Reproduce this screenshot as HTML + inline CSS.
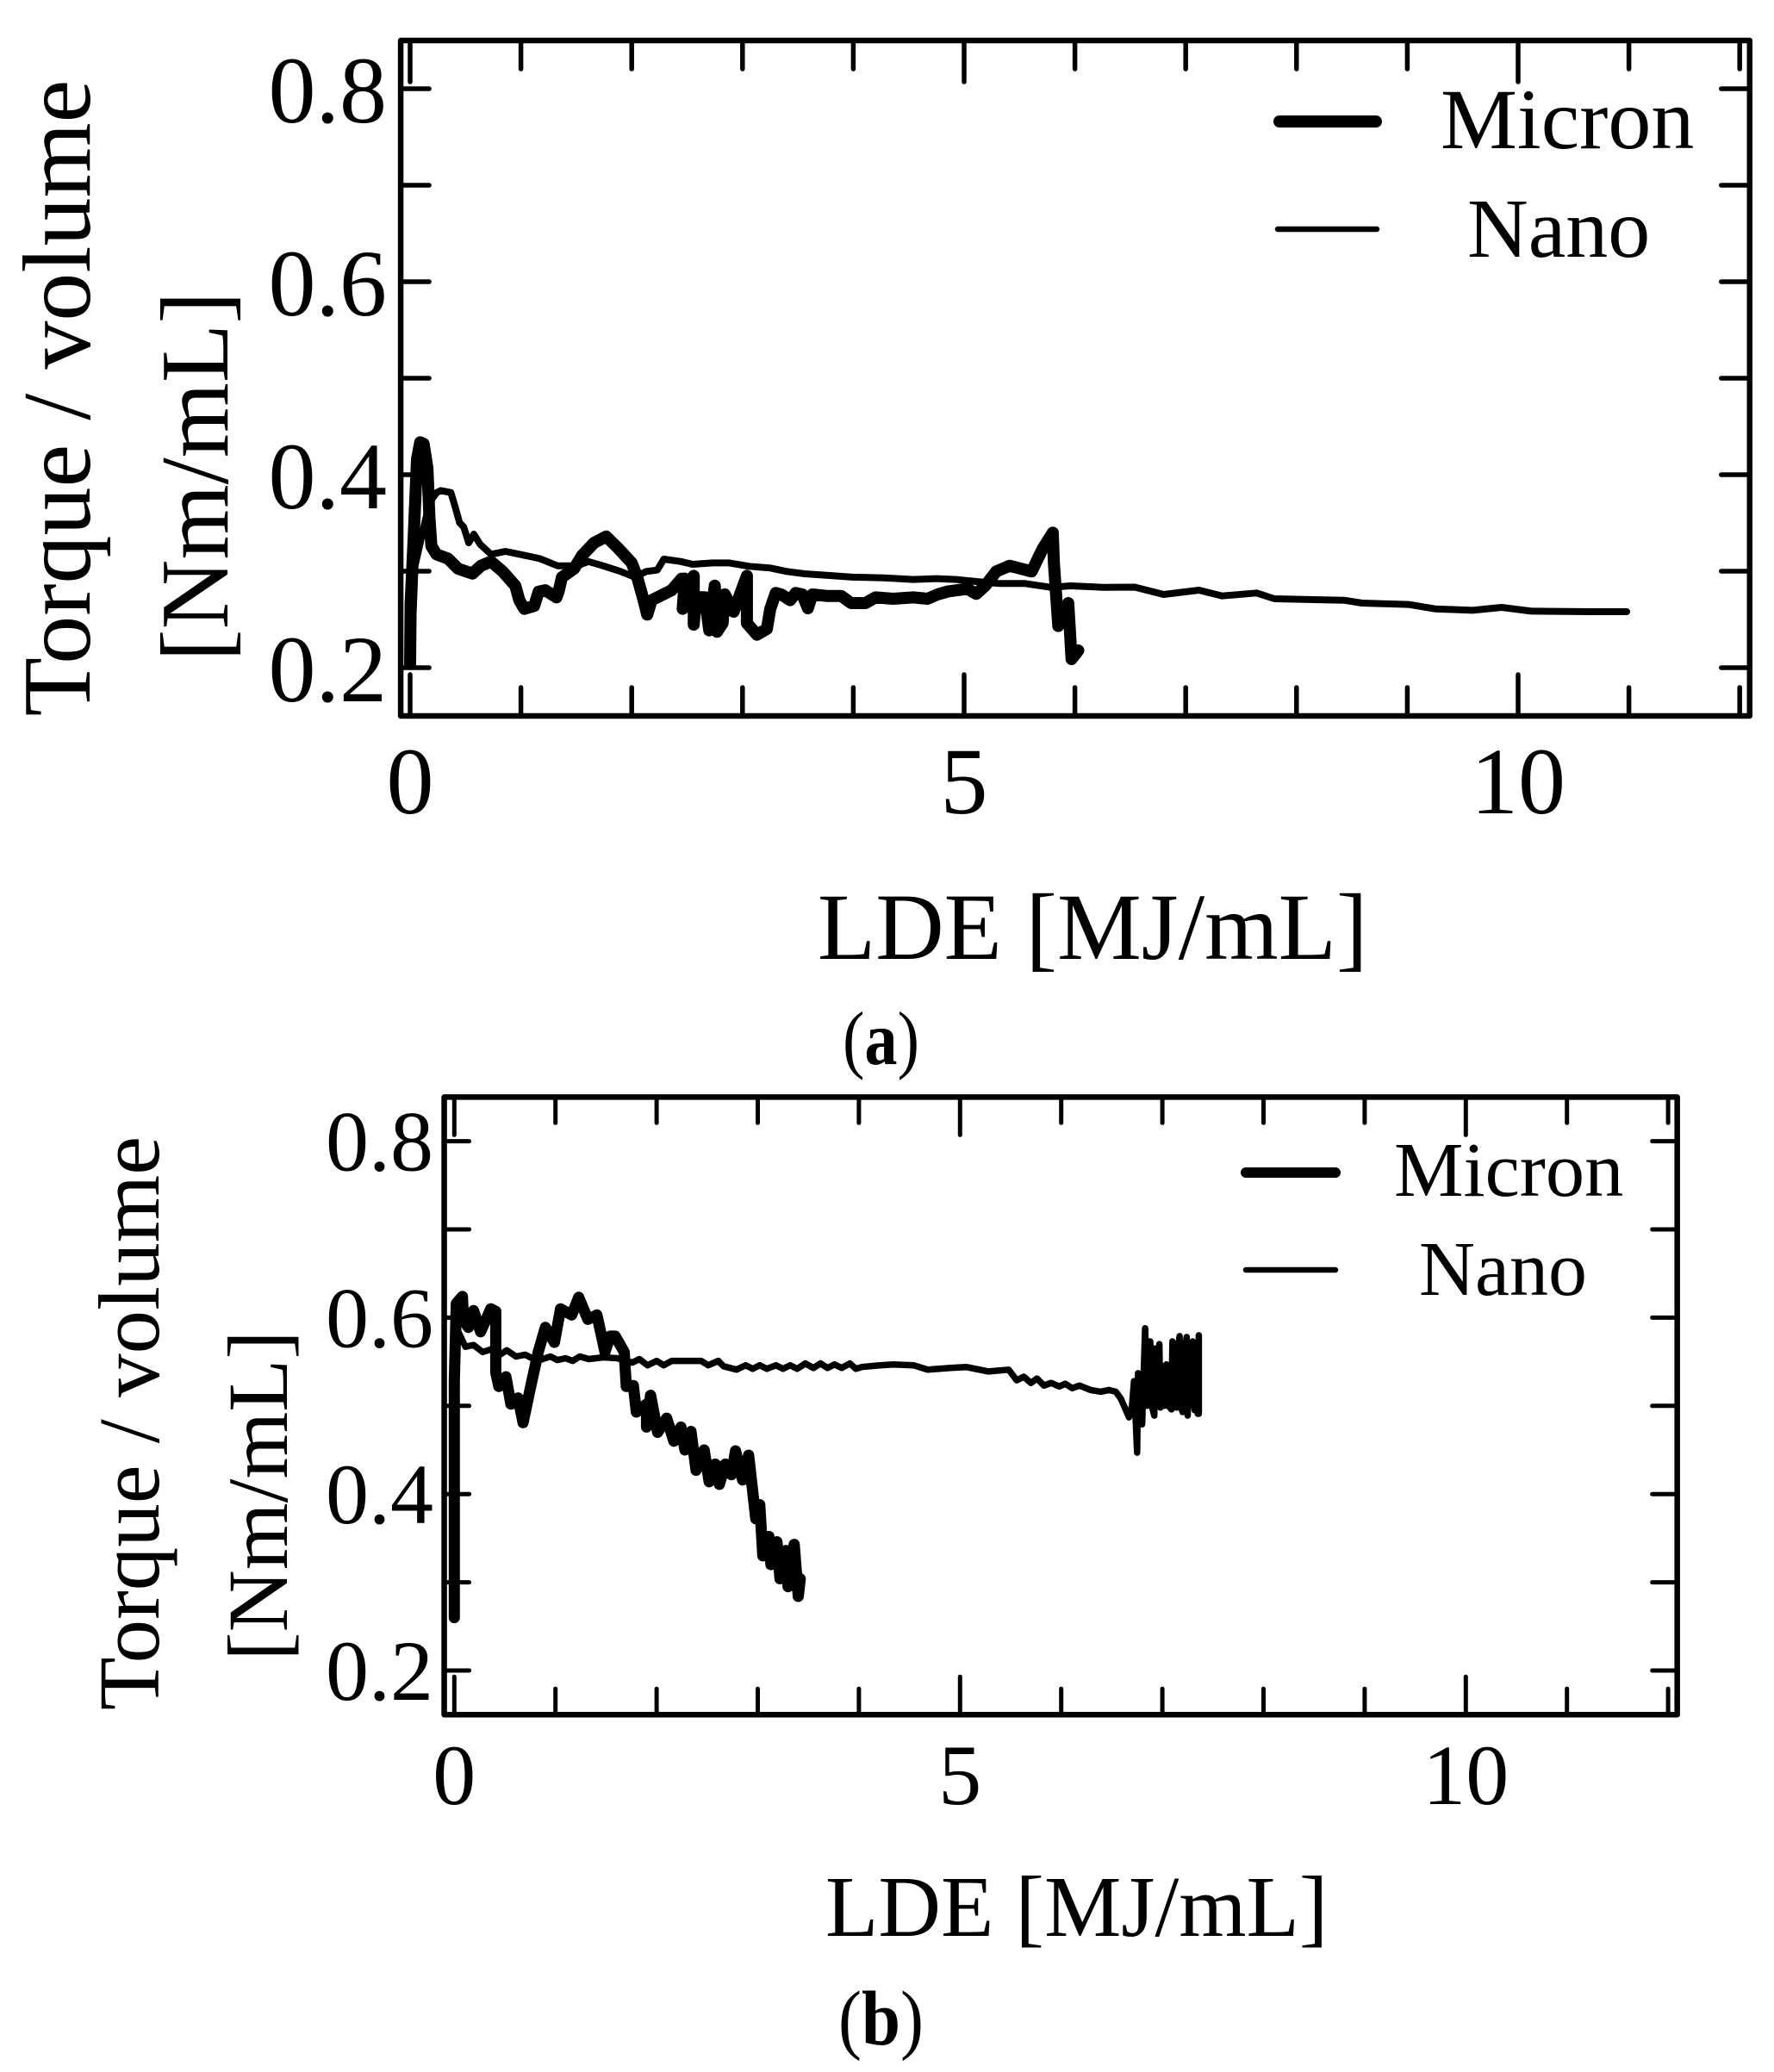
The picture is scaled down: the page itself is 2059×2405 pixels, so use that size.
<!DOCTYPE html>
<html lang="en">
<head>
<meta charset="utf-8">
<title>Torque per volume vs LDE</title>
<style>
html,body{margin:0;padding:0;background:#fff;}
#figure{display:block;width:2059px;height:2405px;background:#fff;}
text{font-family:"Liberation Serif",serif;fill:#000;}
</style>
</head>
<body>
<svg id="figure" xmlns="http://www.w3.org/2000/svg" width="2059" height="2405" viewBox="0 0 2059 2405">
  <g id="panel-a">
    <text transform="translate(104,462) rotate(-90)" text-anchor="middle" font-size="112">Torque / volume</text>
    <text transform="translate(264,553) rotate(-90)" text-anchor="middle" font-size="112">[Nm/mL]</text>
    <text x="949" y="1113" font-size="110">LDE [MJ/mL]</text>
    <text x="1672" y="172" font-size="100">Micron</text>
    <text x="1703" y="298" font-size="98">Nano</text>
    <line x1="1485" y1="141" x2="1597" y2="141" stroke="#000" stroke-width="14" stroke-linecap="round"/>
    <line x1="1483" y1="266" x2="1598" y2="266" stroke="#000" stroke-width="6.5" stroke-linecap="round"/>
    <text x="978" y="1235" font-size="88" textLength="89" lengthAdjust="spacingAndGlyphs">(<tspan font-weight="bold">a</tspan>)</text>
  </g>
  <g id="panel-b">
    <text transform="translate(184,1652) rotate(-90)" text-anchor="middle" font-size="101">Torque / volume</text>
    <text transform="translate(333,1736) rotate(-90)" text-anchor="middle" font-size="100">[Nm/mL]</text>
    <text x="958" y="2247" font-size="100.5">LDE [MJ/mL]</text>
    <text x="1618" y="1388" font-size="90.5">Micron</text>
    <text x="1647" y="1503" font-size="90">Nano</text>
    <line x1="1446" y1="1361" x2="1550" y2="1361" stroke="#000" stroke-width="12" stroke-linecap="round"/>
    <line x1="1446" y1="1474" x2="1550" y2="1474" stroke="#000" stroke-width="6.5" stroke-linecap="round"/>
    <text x="973" y="2373" font-size="90" textLength="99" lengthAdjust="spacingAndGlyphs">(<tspan font-weight="bold">b</tspan>)</text>
  </g>
</svg>
<script>
// Axis ticks
const xMinorTicks = [1,2,3,4,6,7,8,9,11,12];
const xMajorTicks = [0,5,10];
const xTickLabels = ["0","5","10"];
const yTicks = [0.2,0.3,0.4,0.5,0.6,0.7,0.8];
const yLabelValues = [0.2,0.4,0.6,0.8];
const yTickLabels = ["0.2","0.4","0.6","0.8"];

// Panel (a) series
const microAX = [0,0.005,0.031,0.062,0.091,0.122,0.156,0.174,0.192,0.238,0.342,0.433,0.563,0.64,0.73,0.835,0.95,0.985,1.03,1.12,1.16,1.22,1.32,1.34,1.37,1.48,1.55,1.66,1.77,1.88,2.0,2.05,2.1,2.14,2.18,2.36,2.45,2.48,2.46,2.56,2.56,2.58,2.66,2.7,2.75,2.77,2.82,2.84,2.92,3.04,3.04,3.13,3.22,3.25,3.3,3.35,3.43,3.48,3.54,3.59,3.63,3.76,3.89,3.98,4.11,4.2,4.36,4.54,4.67,4.76,4.85,5.03,5.11,5.19,5.29,5.41,5.61,5.71,5.8,5.81,5.85,5.94,5.97,6.03];
const microAY = [0.204,0.267,0.332,0.416,0.4336,0.432,0.407,0.356,0.326,0.3175,0.313,0.3026,0.2976,0.3056,0.31,0.2997,0.2848,0.27,0.261,0.264,0.2788,0.2803,0.2729,0.2788,0.2937,0.3026,0.316,0.3294,0.336,0.3235,0.3086,0.2937,0.2729,0.255,0.2699,0.2803,0.2922,0.2923,0.261,0.2952,0.2446,0.273,0.273,0.2387,0.285,0.2372,0.2461,0.276,0.258,0.2952,0.2461,0.2342,0.2402,0.261,0.2774,0.2759,0.27,0.2774,0.2759,0.2616,0.2759,0.2744,0.2744,0.267,0.267,0.2729,0.2714,0.2729,0.2714,0.2759,0.2789,0.2818,0.2765,0.2848,0.2997,0.3056,0.2997,0.3235,0.3399,0.3086,0.2432,0.267,0.2089,0.2179];
const nanoAX = [0.01,0.044,0.174,0.24,0.277,0.368,0.407,0.446,0.484,0.529,0.575,0.632,0.73,0.86,0.99,1.17,1.33,1.51,1.61,1.74,1.9,2.03,2.13,2.23,2.29,2.44,2.55,2.73,2.88,3.06,3.25,3.4,3.56,3.76,3.99,4.28,4.54,4.75,4.93,5.11,5.32,5.55,5.78,5.96,6.25,6.54,6.8,7.12,7.33,7.64,7.8,8.43,8.59,9.01,9.25,9.59,9.85,10.12,10.64,10.98];
const nanoAY = [0.2045,0.3056,0.3711,0.3815,0.3836,0.3815,0.3666,0.3503,0.3458,0.3294,0.3384,0.3279,0.3175,0.3205,0.3175,0.313,0.3056,0.3056,0.31,0.3056,0.2997,0.2937,0.2997,0.3012,0.3125,0.3101,0.3071,0.3086,0.3086,0.3051,0.3033,0.2997,0.2973,0.2958,0.2938,0.2931,0.2914,0.2923,0.2914,0.2893,0.2872,0.2872,0.2833,0.2848,0.2833,0.2835,0.2759,0.2804,0.2744,0.2774,0.2714,0.2699,0.267,0.2655,0.261,0.2595,0.2625,0.2586,0.258,0.258];

// Panel (b) series
const microBX = [0,0,0.02,0.08,0.09,0.14,0.19,0.26,0.36,0.41,0.41,0.44,0.51,0.56,0.63,0.68,0.75,0.83,0.9,0.99,1.05,1.16,1.23,1.32,1.41,1.49,1.54,1.59,1.68,1.7,1.77,1.8,1.9,1.9,1.94,2.01,2.1,2.17,2.24,2.28,2.34,2.39,2.47,2.52,2.58,2.62,2.68,2.74,2.78,2.85,2.91,2.98,3.02,3.05,3.11,3.13,3.19,3.22,3.28,3.3,3.36,3.4,3.42];
const microBY = [0.26,0.528,0.616,0.624,0.597,0.589,0.608,0.584,0.61,0.607,0.538,0.522,0.533,0.502,0.509,0.481,0.519,0.561,0.589,0.572,0.61,0.603,0.623,0.598,0.603,0.561,0.579,0.579,0.561,0.522,0.523,0.493,0.502,0.476,0.512,0.47,0.486,0.46,0.476,0.45,0.471,0.427,0.45,0.414,0.434,0.411,0.434,0.422,0.449,0.416,0.444,0.372,0.388,0.33,0.352,0.32,0.346,0.304,0.336,0.295,0.343,0.284,0.304];
const nanoBX = [0.02,0.04,0.11,0.19,0.28,0.36,0.45,0.52,0.61,0.7,0.82,0.95,1.02,1.1,1.17,1.24,1.33,1.47,1.61,1.76,1.83,1.91,2,2.07,2.15,2.44,2.51,2.61,2.66,2.79,2.88,2.95,3.02,3.09,3.18,3.25,3.32,3.39,3.47,3.55,3.62,3.69,3.76,3.83,3.91,3.97,4.03,4.21,4.34,4.54,4.68,4.91,5.06,5.28,5.48,5.56,5.63,5.7,5.76,5.83,5.9,5.98,6.04,6.11,6.18,6.29,6.39,6.47,6.54,6.59,6.67,6.7,6.72,6.75,6.76,6.8,6.83,6.85,6.88,6.9,6.92,6.93,6.95,6.97,6.98,7,7.02,7.04,7.06,7.09,7.1,7.12,7.14,7.15,7.17,7.18,7.2,7.22,7.24,7.25,7.27,7.28,7.3,7.32,7.34,7.35,7.36,7.36];
const nanoBY = [0.6,0.584,0.567,0.569,0.561,0.564,0.558,0.563,0.556,0.558,0.551,0.556,0.552,0.554,0.551,0.556,0.553,0.555,0.554,0.549,0.553,0.546,0.551,0.546,0.551,0.551,0.546,0.551,0.545,0.541,0.546,0.542,0.546,0.542,0.546,0.542,0.546,0.542,0.548,0.543,0.548,0.543,0.547,0.543,0.548,0.542,0.544,0.546,0.547,0.546,0.541,0.543,0.544,0.539,0.541,0.529,0.533,0.526,0.531,0.523,0.526,0.522,0.525,0.52,0.523,0.518,0.516,0.518,0.516,0.508,0.487,0.5,0.528,0.447,0.537,0.479,0.588,0.5,0.573,0.498,0.489,0.565,0.5,0.57,0.498,0.545,0.5,0.547,0.5,0.496,0.573,0.505,0.498,0.56,0.579,0.5,0.493,0.56,0.578,0.489,0.56,0.5,0.573,0.495,0.57,0.491,0.58,0.491];

const NS = 'http://www.w3.org/2000/svg';

function makeEl(parent, tag, attrs, name) {
  const el = document.createElementNS(NS, tag);
  for (const k in attrs) el.setAttribute(k, attrs[k]);
  
  
  parent.appendChild(el);
  return el;
}

function drawPanel(cfg) {
  const g = document.getElementById(cfg.id);
  const xScale = v => cfg.x0 + v * cfg.xPerUnit;
  const yScale = v => cfg.y02 - (v - 0.2) * cfg.yPerUnit;
  const left = xScale(cfg.xMin), right = xScale(cfg.xMax);
  const top = yScale(0.85), bottom = yScale(0.15);
  const p = cfg.prefix;

  function tick(x1, y1, x2, y2, name, w) {
    makeEl(g, 'line', {x1: x1, y1: y1, x2: x2, y2: y2, stroke: '#000', 'stroke-width': w, 'stroke-linecap': 'round'}, name);
  }

  xMinorTicks.forEach(v => {
    const x = xScale(v);
    tick(x, bottom, x, bottom - cfg.minorLen, p + '-x-minor-tick-bottom', cfg.tickW);
    tick(x, top, x, top + cfg.minorLen, p + '-x-minor-tick-top', cfg.tickW);
  });
  xMajorTicks.forEach(v => {
    const x = xScale(v);
    tick(x, bottom, x, bottom - cfg.majorLen, p + '-x-major-tick-bottom', cfg.tickW);
    tick(x, top, x, top + cfg.majorLen, p + '-x-major-tick-top', cfg.tickW);
  });
  yTicks.forEach(v => {
    const y = yScale(v);
    tick(left, y, left + cfg.yTickLen, y, p + '-y-tick-left', cfg.tickW);
    tick(right, y, right - cfg.yTickLen, y, p + '-y-tick-right', cfg.tickW);
  });

  makeEl(g, 'rect', {x: left, y: top, width: right - left, height: bottom - top, fill: 'none', stroke: '#000', 'stroke-width': cfg.spineW, 'stroke-linejoin': 'round'}, p + '-plot-frame');

  xMajorTicks.forEach((v, i) => {
    const t = makeEl(g, 'text', {x: xScale(v), y: cfg.xLabelBase, 'text-anchor': 'middle', 'font-size': cfg.tickFont}, p + '-x-tick-label');
    t.textContent = xTickLabels[i];
  });
  yLabelValues.forEach((v, i) => {
    const t = makeEl(g, 'text', {x: cfg.yLabelRight, y: yScale(v) + cfg.yLabelDy, 'text-anchor': 'end', 'font-size': cfg.tickFont}, p + '-y-tick-label');
    t.textContent = yTickLabels[i];
  });

  function series(xs, ys, w, name) {
    const pts = xs.map((v, i) => xScale(v).toFixed(1) + ',' + yScale(ys[i]).toFixed(1)).join(' ');
    makeEl(g, 'polyline', {points: pts, fill: 'none', stroke: '#000', 'stroke-width': w, 'stroke-linejoin': 'round', 'stroke-linecap': 'round'}, name);
  }
  series(cfg.microX, cfg.microY, cfg.microW, p + '-micron-line');
  series(cfg.nanoX, cfg.nanoY, cfg.nanoW, p + '-nano-line');
}

drawPanel({
  id: 'panel-a', prefix: 'panel-a',
  x0: 476, xPerUnit: 128.6, y02: 775, yPerUnit: 1120,
  xMin: -0.085, xMax: 12.09,
  minorLen: 33, majorLen: 48, yTickLen: 33, tickW: 5.5, spineW: 6.5,
  tickFont: 110, xLabelBase: 944, yLabelRight: 449, yLabelDy: 39,
  microW: 14, nanoW: 8,
  microX: microAX, microY: microAY, nanoX: nanoAX, nanoY: nanoAY
});

drawPanel({
  id: 'panel-b', prefix: 'panel-b',
  x0: 527.3, xPerUnit: 117.4, y02: 1939, yPerUnit: 1024,
  xMin: -0.1, xMax: 12.09,
  minorLen: 30, majorLen: 44, yTickLen: 29, tickW: 5, spineW: 6.5,
  tickFont: 100, xLabelBase: 2094, yLabelRight: 503, yLabelDy: 34,
  microW: 13, nanoW: 7.5,
  microX: microBX, microY: microBY, nanoX: nanoBX, nanoY: nanoBY
});
</script>
</body>
</html>
